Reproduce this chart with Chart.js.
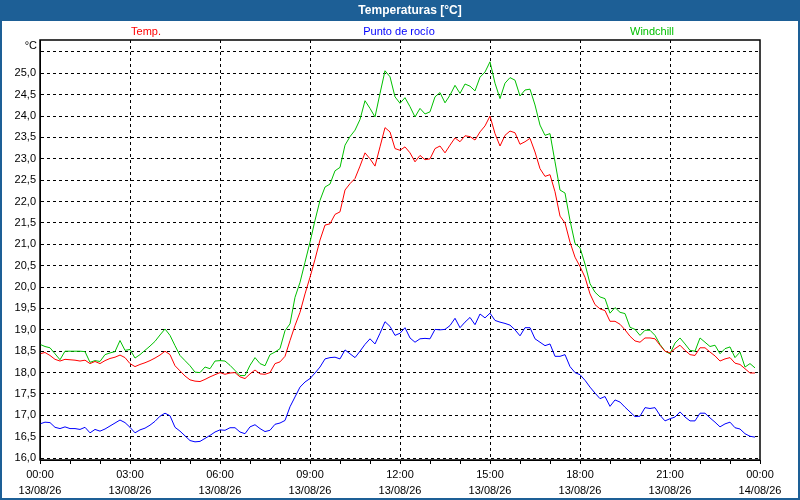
<!DOCTYPE html>
<html>
<head>
<meta charset="utf-8">
<script src="https://cdn.jsdelivr.net/npm/chart.js@4/dist/chart.umd.min.js"></script>
<style>
  html, body { margin: 0; padding: 0; background: #fff; }
  #wrap { width: 800px; height: 500px; }
</style>
</head>
<body>
<div id="wrap"><canvas id="chart" width="800" height="500"></canvas></div>
<script>
// samples every 10 minutes, 13/08/26 00:00 .. 23:50
const STEP_MIN = 10;

const temp = [
  18.44, 18.47, 18.40, 18.31, 18.27, 18.31, 18.30, 18.29, 18.27, 18.29, 18.21, 18.26, 18.21, 18.28, 18.33, 18.36, 18.41, 18.35,
  18.21, 18.14, 18.19, 18.23, 18.28, 18.34, 18.41, 18.50, 18.42, 18.16, 18.04, 17.92, 17.83, 17.80, 17.79, 17.84, 17.90, 17.95, 18.00,
  17.96, 17.99, 18.00, 17.90, 17.86, 17.97, 18.06, 17.97, 17.96, 18.00, 18.21, 18.25, 18.38, 18.75, 19.10, 19.41, 19.84, 20.23,
  20.65, 21.10, 21.45, 21.48, 21.70, 21.76, 22.27, 22.42, 22.54, 22.83, 23.14, 23.00, 22.83, 23.28, 23.73, 23.63, 23.24, 23.20,
  23.28, 23.14, 22.93, 23.08, 22.98, 23.00, 23.24, 23.30, 23.14, 23.32, 23.49, 23.40, 23.54, 23.52, 23.44, 23.63, 23.77, 24.00,
  23.59, 23.30, 23.55, 23.65, 23.61, 23.34, 23.40, 23.48, 23.16, 22.77, 22.59, 22.63, 22.23, 21.66, 21.50, 21.05, 20.70, 20.48,
  20.23, 19.84, 19.59, 19.49, 19.45, 19.20, 19.20, 19.13, 19.00, 18.85, 18.74, 18.71, 18.81, 18.81, 18.79, 18.64, 18.50, 18.46,
  18.56, 18.64, 18.52, 18.42, 18.40, 18.58, 18.58, 18.48, 18.39, 18.27, 18.32, 18.35, 18.22, 18.19, 18.09, 17.99, 17.99
];

const dewPoint = [
  16.80, 16.84, 16.83, 16.72, 16.69, 16.73, 16.69, 16.69, 16.67, 16.72, 16.59, 16.67, 16.63, 16.68, 16.75, 16.82, 16.89, 16.83,
  16.72, 16.59, 16.66, 16.70, 16.77, 16.86, 16.98, 17.05, 16.99, 16.72, 16.63, 16.52, 16.41, 16.38, 16.39, 16.46, 16.53, 16.61, 16.66,
  16.65, 16.71, 16.71, 16.61, 16.57, 16.73, 16.78, 16.69, 16.62, 16.65, 16.79, 16.82, 16.88, 17.20, 17.43, 17.66, 17.78, 17.86,
  17.99, 18.13, 18.32, 18.35, 18.36, 18.32, 18.53, 18.44, 18.35, 18.50, 18.66, 18.79, 18.67, 18.92, 19.19, 19.08, 18.87, 18.92,
  19.05, 18.81, 18.71, 18.79, 18.80, 18.79, 19.01, 19.00, 19.01, 19.10, 19.27, 19.05, 19.18, 19.29, 19.12, 19.37, 19.28, 19.39,
  19.22, 19.18, 19.15, 19.11, 19.00, 18.86, 19.05, 19.05, 18.79, 18.71, 18.63, 18.67, 18.38, 18.38, 18.42, 18.14, 18.00, 17.95,
  17.82, 17.66, 17.52, 17.39, 17.44, 17.21, 17.36, 17.31, 17.19, 17.08, 16.97, 16.98, 17.18, 17.16, 17.18, 17.00, 16.87, 16.92,
  16.96, 17.08, 16.96, 16.87, 16.87, 17.05, 17.05, 16.94, 16.84, 16.73, 16.80, 16.84, 16.71, 16.68, 16.57, 16.51, 16.49
];

const windchill = [
  18.66, 18.61, 18.58, 18.44, 18.30, 18.50, 18.50, 18.50, 18.50, 18.49, 18.24, 18.28, 18.26, 18.42, 18.46, 18.49, 18.75, 18.52,
  18.54, 18.34, 18.42, 18.52, 18.62, 18.73, 18.88, 19.02, 18.87, 18.63, 18.40, 18.28, 18.16, 18.01, 18.00, 18.13, 18.09, 18.27, 18.28,
  18.27, 18.17, 18.05, 17.93, 17.93, 18.17, 18.35, 18.21, 18.16, 18.42, 18.48, 18.56, 18.98, 19.14, 19.76, 20.11, 20.58, 21.05,
  21.56, 22.03, 22.34, 22.41, 22.72, 22.80, 23.32, 23.52, 23.67, 23.92, 24.36, 24.18, 23.98, 24.53, 25.06, 24.92, 24.45, 24.30,
  24.43, 24.22, 23.98, 24.18, 24.05, 24.10, 24.45, 24.55, 24.31, 24.49, 24.72, 24.53, 24.75, 24.70, 24.59, 24.91, 25.03, 25.27,
  24.77, 24.41, 24.77, 24.90, 24.84, 24.47, 24.61, 24.63, 24.26, 23.79, 23.55, 23.59, 22.93, 22.27, 22.20, 21.56, 21.02, 20.92,
  20.54, 20.08, 19.88, 19.77, 19.73, 19.39, 19.52, 19.41, 19.38, 19.06, 19.01, 18.87, 18.99, 18.99, 18.87, 18.66, 18.50, 18.44,
  18.69, 18.81, 18.67, 18.52, 18.50, 18.81, 18.71, 18.61, 18.64, 18.44, 18.56, 18.60, 18.35, 18.48, 18.13, 18.21, 18.11
];

const seriesNames = ['Temp.', 'Punto de rocío', 'Windchill'];
const seriesColors = ['#ff0000', '#0000ff', '#00c000'];

const hourLabels = ['00:00', '03:00', '06:00', '09:00', '12:00', '15:00', '18:00', '21:00', '00:00'];
const dateLabels = ['13/08/26', '13/08/26', '13/08/26', '13/08/26', '13/08/26', '13/08/26', '13/08/26', '13/08/26', '14/08/26'];

const yTicks = [16, 16.5, 17, 17.5, 18, 18.5, 19, 19.5, 20, 20.5, 21, 21.5, 22, 22.5, 23, 23.5, 24, 24.5, 25, 25.5];

const BAR = '#1d5f96';
const FONT = '"Liberation Sans", Arial, sans-serif';

function toPoints(arr) {
  return arr.map((v, i) => ({ x: i * STEP_MIN / 60, y: v }));
}

// title bar, legend captions, unit and the plot frame
const decor = {
  id: 'decor',
  beforeDraw(chart) {
    const { ctx, width, height } = chart;
    ctx.save();
    ctx.fillStyle = '#ffffff';
    ctx.fillRect(0, 0, width, height);
    ctx.fillStyle = BAR;
    ctx.fillRect(0, 0, width, 21);
    ctx.strokeStyle = BAR;
    ctx.lineWidth = 2;
    ctx.strokeRect(1, 1, width - 2, height - 2);

    ctx.fillStyle = '#ffffff';
    ctx.font = 'bold 12px ' + FONT;
    ctx.textAlign = 'center';
    ctx.textBaseline = 'middle';
    ctx.fillText('Temperaturas [°C]', 410, 11);

    ctx.font = '11px ' + FONT;
    const legendX = [146, 399, 652];
    seriesNames.forEach((n, i) => {
      ctx.fillStyle = seriesColors[i];
      ctx.fillText(n, legendX[i], 32);
    });

    ctx.fillStyle = '#000';
    ctx.textAlign = 'right';
    ctx.fillText('°C', 37, 46);
    ctx.restore();
  },
  afterDatasetsDraw(chart) {
    const { ctx, chartArea: a } = chart;
    ctx.save();
    ctx.strokeStyle = '#000';
    ctx.lineWidth = 1.5;
    ctx.strokeRect(a.left, a.top, a.right - a.left, a.bottom - a.top);
    ctx.restore();
  }
};

const series = [temp, dewPoint, windchill];

new Chart(document.getElementById('chart'), {
  type: 'line',
  data: {
    datasets: series.map((s, i) => ({
      label: seriesNames[i],
      data: toPoints(s),
      borderColor: seriesColors[i],
      borderWidth: 1,
      pointRadius: 0,
      tension: 0,
      fill: false
    }))
  },
  options: {
    responsive: false,
    animation: false,
    layout: { padding: { top: 40, right: 40, left: 2, bottom: 0 } },
    plugins: { legend: { display: false }, title: { display: false }, tooltip: { enabled: false } },
    scales: {
      x: {
        type: 'linear',
        min: 0,
        max: 24,
        afterFit: s => { s.height = 40; },
        ticks: {
          stepSize: 1,
          autoSkip: false,
          maxRotation: 0,
          padding: 3,
          color: '#000',
          font: { family: FONT, size: 11, lineHeight: 1.45 },
          callback: v => (v % 3 === 0 ? [hourLabels[v / 3], dateLabels[v / 3]] : '')
        },
        grid: {
          color: c => (c.tick && c.tick.value % 3 === 0 && c.tick.value > 0 && c.tick.value < 24) ? '#000' : 'rgba(0,0,0,0)',
          tickColor: '#000',
          tickLength: 4,
          tickBorderDash: [],
          lineWidth: 1
        },
        border: { display: true, color: '#000', width: 1, dash: [3, 3] }
      },
      y: {
        min: 15.955,
        max: 25.78,
        afterFit: s => { s.width = 38; },
        afterBuildTicks: s => { s.ticks = yTicks.map(v => ({ value: v })); },
        ticks: {
          padding: 4,
          color: '#000',
          font: { family: FONT, size: 11 },
          callback: v => (v > 25.2 ? '' : v.toFixed(1).replace('.', ','))
        },
        grid: { color: '#000', drawTicks: false, lineWidth: 1 },
        border: { display: true, color: '#000', width: 1, dash: [3, 3] }
      }
    }
  },
  plugins: [decor]
});
</script>
</body>
</html>
